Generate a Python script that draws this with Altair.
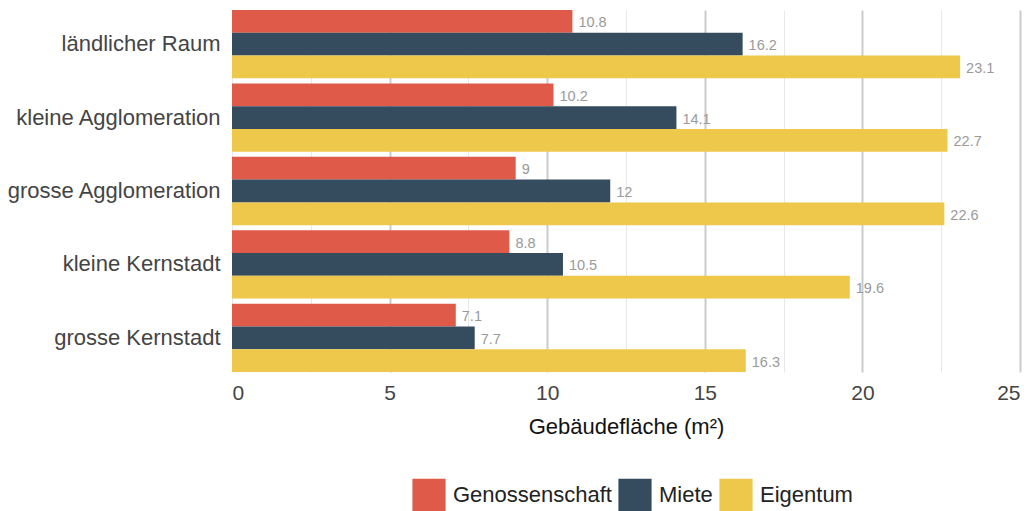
import altair as alt
import pandas as pd

regions = ["ländlicher Raum", "kleine Agglomeration", "grosse Agglomeration", "kleine Kernstadt", "grosse Kernstadt"]
types = ["Genossenschaft", "Miete", "Eigentum"]
genossenschaft = [10.8, 10.2, 9, 8.8, 7.1]
miete = [16.2, 14.1, 12, 10.5, 7.7]
eigentum = [23.1, 22.7, 22.6, 19.6, 16.3]
colors = ["#E05A49", "#354B5E", "#EEC84B"]
x_ticks = [0, 2.5, 5, 7.5, 10, 12.5, 15, 17.5, 20, 22.5, 25]

rows = []
for i, r in enumerate(regions):
    for t, vals in zip(types, [genossenschaft, miete, eigentum]):
        rows.append({"region": r, "type": t, "value": vals[i]})
df = pd.DataFrame(rows)

FONT = "Liberation Sans"

base = alt.Chart(df).encode(
    y=alt.Y("region:N", sort=regions, title=None,
            scale=alt.Scale(paddingInner=0.07, paddingOuter=0),
            axis=alt.Axis(labelFontSize=22, labelColor="#444", labelPadding=12,
                          labelLimit=400,
                          ticks=False, domain=False, grid=False, labelFont=FONT)),
    yOffset=alt.YOffset("type:N", sort=types, scale=alt.Scale(paddingInner=0, paddingOuter=0)),
)

bars = base.mark_bar().encode(
    x=alt.X("value:Q", title="Gebäudefläche (m²)",
            scale=alt.Scale(domain=[0, 25], nice=False),
            axis=alt.Axis(values=x_ticks,
                          labelExpr="datum.value % 5 === 0 ? datum.label : ''",
                          labelFontSize=21, labelColor="#444", labelPadding=10,
                          labelFont=FONT, titleFont=FONT,
                          titleFontSize=22, titleFontWeight="normal", titleColor="#111",
                          titlePadding=13, ticks=False, domain=False,
                          gridColor=alt.condition("datum.value % 5 === 0 && datum.value > 0", alt.value("#cccccc"), alt.value("#e8e8e8")),
                          gridWidth=alt.condition("datum.value % 5 === 0 && datum.value > 0", alt.value(2), alt.value(1)))),
    color=alt.Color("type:N", sort=types, scale=alt.Scale(domain=types, range=colors),
                    legend=alt.Legend(title=None, orient="none", direction="horizontal",
                                      legendX=180, legendY=468,
                                      symbolType="square", symbolSize=1100, symbolStrokeWidth=0,
                                      symbolOpacity=1,
                                      labelFontSize=22, labelColor="#222", labelFont=FONT,
                                      columnPadding=6, labelOffset=7)),
)

labels = base.mark_text(align="left", baseline="middle", dx=6, dy=2, fontSize=14.5,
                        color="#9a9a9a", font=FONT).encode(
    x=alt.X("value:Q"),
    text=alt.Text("value:Q"),
)

chart = alt.layer(bars, labels).properties(
    width=788, height=362,
    padding={"left": -3, "top": 2, "right": 5, "bottom": 0},
).configure_view(stroke=None)

chart.save("out.html", embed_options={"renderer": "svg", "actions": False})
